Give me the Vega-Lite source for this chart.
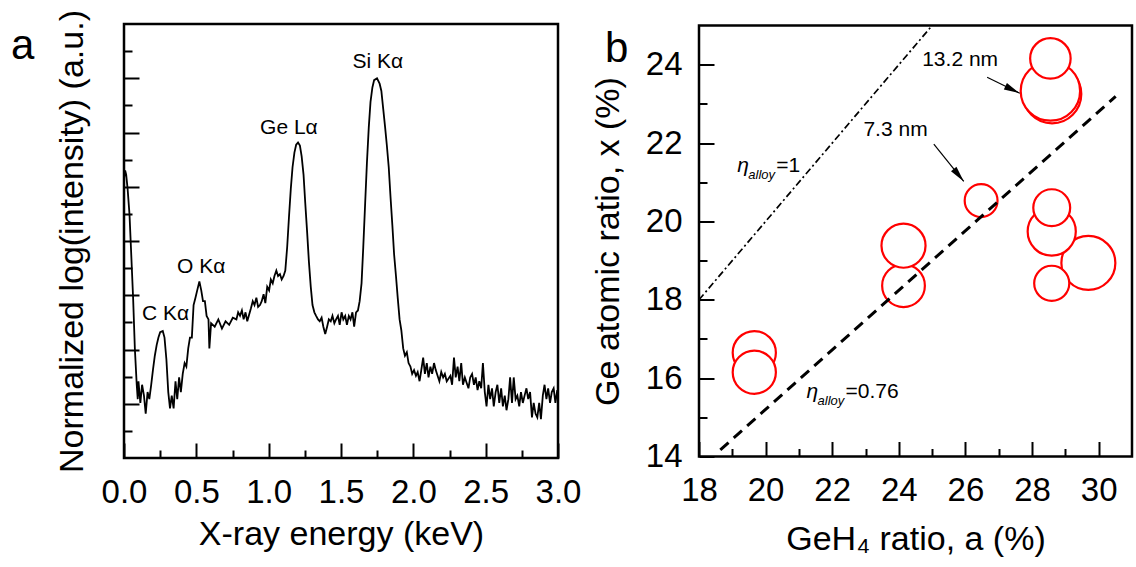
{
  "$schema": "https://vega.github.io/schema/vega-lite/v6.json",
  "padding": {"left": 9, "top": 8, "right": 0, "bottom": 0},
  "background": "white",
  "spacing": 141,
  "bounds": "flush",
  "center": true,
  "config": {
    "view": {"stroke": "black", "strokeWidth": 2.5},
    "font": "Liberation Sans",
    "axis": {
      "domain": false, "grid": false, "tickColor": "black", "tickWidth": 2,
      "labelColor": "black", "titleColor": "black", "labelFont": "Liberation Sans", "titleFont": "Liberation Sans",
      "labelFontSize": 33, "titleFontSize": 34, "titleFontWeight": "normal",
      "labelFlush": false, "labelOverlap": false, "labelBound": false
    },
    "text": {"font": "Liberation Sans", "color": "black"}
  },
  "datasets": {
    "spectrum": [
      {"E":0.000,"I":10.3},{"E":0.008,"I":10.6},{"E":0.015,"I":10.45},{"E":0.025,"I":9.92},{"E":0.038,"I":8.98},{"E":0.050,"I":7.51},{"E":0.063,"I":5.9},{"E":0.075,"I":4.04},{"E":0.088,"I":2.70},{"E":0.095,"I":2.17},
      {"E":0.100,"I":2.83},{"E":0.113,"I":2.03},{"E":0.125,"I":2.70},{"E":0.138,"I":2.30},{"E":0.150,"I":1.63},{"E":0.163,"I":2.43},{"E":0.175,"I":2.17},{"E":0.188,"I":2.70},{"E":0.200,"I":3.24},{"E":0.213,"I":3.77},
      {"E":0.226,"I":4.17},{"E":0.238,"I":4.44},{"E":0.250,"I":4.64},{"E":0.268,"I":4.68},{"E":0.280,"I":4.44},{"E":0.293,"I":3.64},{"E":0.306,"I":2.43},{"E":0.318,"I":1.83},{"E":0.330,"I":2.30},{"E":0.343,"I":1.83},
      {"E":0.356,"I":2.83},{"E":0.368,"I":2.17},{"E":0.381,"I":2.97},{"E":0.393,"I":2.43},{"E":0.406,"I":3.10},{"E":0.419,"I":3.50},{"E":0.431,"I":3.37},{"E":0.444,"I":4.04},{"E":0.456,"I":4.44},{"E":0.469,"I":4.44},
      {"E":0.481,"I":5.64},{"E":0.494,"I":5.91},{"E":0.506,"I":6.18},{"E":0.521,"I":6.51},{"E":0.534,"I":6.18},{"E":0.546,"I":5.78},{"E":0.559,"I":5.78},{"E":0.571,"I":5.24},{"E":0.584,"I":5.11},{"E":0.590,"I":4.04},
      {"E":0.602,"I":4.97},{"E":0.627,"I":4.84},{"E":0.652,"I":5.11},{"E":0.677,"I":4.77},{"E":0.702,"I":5.04},{"E":0.727,"I":4.91},{"E":0.752,"I":5.17},{"E":0.777,"I":5.11},{"E":0.789,"I":5.37},{"E":0.802,"I":5.24},
      {"E":0.815,"I":5.44},{"E":0.827,"I":5.11},{"E":0.840,"I":5.37},{"E":0.852,"I":5.04},{"E":0.877,"I":5.51},{"E":0.890,"I":5.78},{"E":0.902,"I":5.64},{"E":0.915,"I":5.91},{"E":0.927,"I":5.57},{"E":0.940,"I":5.64},
      {"E":0.952,"I":5.78},{"E":0.965,"I":6.04},{"E":0.977,"I":5.71},{"E":0.990,"I":6.31},{"E":1.003,"I":6.18},{"E":1.015,"I":6.58},{"E":1.028,"I":6.44},{"E":1.040,"I":6.71},{"E":1.053,"I":6.91},{"E":1.065,"I":6.71},
      {"E":1.078,"I":6.78},{"E":1.090,"I":6.58},{"E":1.103,"I":6.71},{"E":1.115,"I":6.91},{"E":1.128,"I":7.78},{"E":1.140,"I":8.85},{"E":1.153,"I":9.92},{"E":1.165,"I":10.72},{"E":1.178,"I":11.26},{"E":1.190,"I":11.55},
      {"E":1.203,"I":11.63},{"E":1.216,"I":11.52},{"E":1.228,"I":11.12},{"E":1.241,"I":10.45},{"E":1.253,"I":9.39},{"E":1.266,"I":8.32},{"E":1.278,"I":7.25},{"E":1.291,"I":6.31},{"E":1.303,"I":5.64},{"E":1.316,"I":5.37},
      {"E":1.328,"I":5.24},{"E":1.341,"I":5.11},{"E":1.353,"I":5.04},{"E":1.366,"I":5.17},{"E":1.378,"I":4.84},{"E":1.391,"I":4.57},{"E":1.404,"I":4.84},{"E":1.416,"I":5.11},{"E":1.429,"I":5.04},{"E":1.441,"I":5.24},
      {"E":1.454,"I":4.97},{"E":1.466,"I":5.11},{"E":1.479,"I":5.24},{"E":1.491,"I":4.91},{"E":1.504,"I":5.37},{"E":1.516,"I":5.11},{"E":1.529,"I":5.24},{"E":1.541,"I":4.91},{"E":1.554,"I":5.24},{"E":1.566,"I":5.11},
      {"E":1.579,"I":5.37},{"E":1.591,"I":4.84},{"E":1.604,"I":5.37},{"E":1.617,"I":5.44},{"E":1.629,"I":5.78},{"E":1.642,"I":6.44},{"E":1.654,"I":7.78},{"E":1.667,"I":9.39},{"E":1.679,"I":10.86},{"E":1.692,"I":12.19},
      {"E":1.704,"I":13.13},{"E":1.717,"I":13.66},{"E":1.729,"I":13.93},{"E":1.749,"I":14.0},{"E":1.767,"I":13.80},{"E":1.779,"I":13.53},{"E":1.792,"I":12.86},{"E":1.805,"I":12.19},{"E":1.817,"I":11.52},{"E":1.830,"I":10.72},
      {"E":1.842,"I":9.65},{"E":1.855,"I":8.58},{"E":1.867,"I":7.51},{"E":1.880,"I":6.71},{"E":1.892,"I":5.91},{"E":1.905,"I":5.11},{"E":1.917,"I":4.71},{"E":1.930,"I":4.04},{"E":1.942,"I":3.77},{"E":1.955,"I":3.90},
      {"E":1.967,"I":3.50},{"E":1.980,"I":3.37},{"E":1.992,"I":3.10},{"E":2.005,"I":3.24},{"E":2.018,"I":3.03},{"E":2.030,"I":3.17},{"E":2.043,"I":2.83},{"E":2.055,"I":3.24},{"E":2.068,"I":3.70},{"E":2.080,"I":3.10},
      {"E":2.093,"I":3.50},{"E":2.105,"I":2.97},{"E":2.118,"I":3.37},{"E":2.130,"I":3.10},{"E":2.143,"I":3.50},{"E":2.155,"I":3.24},{"E":2.180,"I":2.83},{"E":2.193,"I":3.17},{"E":2.206,"I":2.97},{"E":2.218,"I":3.10},
      {"E":2.231,"I":2.83},{"E":2.256,"I":3.03},{"E":2.268,"I":2.70},{"E":2.281,"I":3.70},{"E":2.293,"I":2.97},{"E":2.306,"I":3.37},{"E":2.318,"I":2.83},{"E":2.331,"I":3.50},{"E":2.343,"I":2.70},{"E":2.356,"I":2.97},
      {"E":2.381,"I":2.57},{"E":2.393,"I":2.97},{"E":2.406,"I":3.10},{"E":2.419,"I":2.70},{"E":2.431,"I":2.97},{"E":2.444,"I":2.50},{"E":2.456,"I":2.83},{"E":2.469,"I":2.57},{"E":2.481,"I":3.50},{"E":2.494,"I":2.43},
      {"E":2.506,"I":1.90},{"E":2.519,"I":2.70},{"E":2.531,"I":2.17},{"E":2.544,"I":2.57},{"E":2.556,"I":1.90},{"E":2.569,"I":2.43},{"E":2.581,"I":2.70},{"E":2.594,"I":2.03},{"E":2.607,"I":2.57},{"E":2.619,"I":1.90},
      {"E":2.632,"I":2.30},{"E":2.644,"I":1.76},{"E":2.657,"I":2.17},{"E":2.669,"I":2.97},{"E":2.682,"I":2.03},{"E":2.694,"I":2.97},{"E":2.707,"I":2.17},{"E":2.719,"I":2.30},{"E":2.732,"I":1.90},{"E":2.744,"I":2.43},
      {"E":2.757,"I":2.03},{"E":2.769,"I":2.30},{"E":2.782,"I":2.57},{"E":2.794,"I":2.17},{"E":2.807,"I":2.43},{"E":2.820,"I":1.50},{"E":2.832,"I":2.03},{"E":2.845,"I":1.63},{"E":2.857,"I":1.50},{"E":2.870,"I":2.03},
      {"E":2.882,"I":1.43},{"E":2.895,"I":2.30},{"E":2.907,"I":2.70},{"E":2.920,"I":2.17},{"E":2.932,"I":2.57},{"E":2.945,"I":2.03},{"E":2.957,"I":2.43},{"E":2.970,"I":2.57},{"E":2.982,"I":2.03},{"E":2.995,"I":2.50}
    ],
    "peaks": [
      {"E":0.288,"I":5.31,"label":"C Kα"},
      {"E":0.534,"I":7.05,"label":"O Kα"},
      {"E":1.14,"I":12.17,"label":"Ge Lα"},
      {"E":1.754,"I":14.6,"label":"Si Kα"}
    ],
    "circles": [
      {"a":28.60,"x":23.25,"d":13.0},
      {"a":28.55,"x":23.33,"d":13.2},
      {"a":28.55,"x":24.16,"d":9.0},
      {"a":26.47,"x":20.53,"d":7.3},
      {"a":24.14,"x":18.36,"d":9.5},
      {"a":24.14,"x":19.38,"d":9.8},
      {"a":19.66,"x":16.65,"d":9.6},
      {"a":19.66,"x":16.15,"d":9.6},
      {"a":29.69,"x":18.94,"d":12.0},
      {"a":28.59,"x":19.74,"d":10.7},
      {"a":28.59,"x":20.35,"d":8.2},
      {"a":28.59,"x":18.42,"d":7.8}
    ],
    "lines": [
      {"a":18,"x":18,"eta":"1"},{"a":25,"x":25,"eta":"1"},
      {"a":18.64,"x":14.17,"eta":"0.76"},{"a":30.51,"x":23.19,"eta":"0.76"}
    ],
    "sizes": [
      {"a":25.84,"x":24.12,"label":"13.2 nm"},
      {"a":23.90,"x":22.33,"label":"7.3 nm"}
    ],
    "arrows": [
      {"a":26.65,"x":23.68,"a2":27.63,"x2":23.27,"label":"13.2 nm"},
      {"a":25.05,"x":21.97,"a2":25.95,"x2":21.02,"label":"7.3 nm"}
    ],
    "eta": [
      {"a":19.15,"x":21.27,"v":"=1"},
      {"a":21.23,"x":15.49,"v":"=0.76"}
    ]
  },
  "hconcat": [
    {
      "width": 434, "height": 434,
      "resolve": {"axis": {"x": "independent", "y": "independent"}},
      "layer": [
        {
          "data": {"name": "spectrum"},
          "mark": {"type": "line", "color": "black", "strokeWidth": 1.8},
          "encoding": {
            "x": {"field": "E", "type": "quantitative", "scale": {"domain": [0, 3], "nice": false, "zero": false},
                  "axis": {"orient": "bottom", "values": [0, 0.5, 1, 1.5, 2, 2.5, 3], "format": ".1f", "tickSize": -15, "labelPadding": 33, "title": "X-ray energy (keV)", "titlePadding": 8}},
            "y": {"field": "I", "type": "quantitative", "scale": {"domain": [0, 16], "nice": false, "zero": false},
                  "axis": {"orient": "left", "values": [2, 4, 6, 8, 10, 12, 14], "tickSize": -15, "labels": false, "title": "Normalized log(intensity) (a.u.)", "titlePadding": 34}}
          }
        },
        {
          "data": {"name": "peaks"},
          "mark": {"type": "text", "fontSize": 21, "align": "center", "baseline": "middle"},
          "encoding": {
            "x": {"field": "E", "type": "quantitative", "axis": {"orient": "bottom", "values": [0.25, 0.75, 1.25, 1.75, 2.25, 2.75], "tickSize": -8, "labels": false, "title": null}},
            "y": {"field": "I", "type": "quantitative", "axis": {"orient": "left", "values": [1, 3, 5, 7, 9, 11, 13, 15], "tickSize": -8, "labels": false, "title": null}},
            "text": {"field": "label"}
          }
        },
        {
          "data": {"values": [{"E": -0.70, "I": 14.72, "t": "a"}]},
          "mark": {"type": "text", "fontSize": 42, "align": "center", "baseline": "alphabetic"},
          "encoding": {
            "x": {"field": "E", "type": "quantitative", "axis": null},
            "y": {"field": "I", "type": "quantitative", "axis": null},
            "text": {"field": "t"}
          }
        }
      ]
    },
    {
      "width": 433, "height": 431,
      "resolve": {"axis": {"x": "independent", "y": "independent"}},
      "layer": [
        {
          "data": {"name": "circles"},
          "mark": {"type": "point", "shape": "circle", "filled": true, "fill": "white", "stroke": "#ff0000", "strokeWidth": 2.2, "opacity": 1, "fillOpacity": 1, "strokeOpacity": 1},
          "encoding": {
            "x": {"field": "a", "type": "quantitative", "scale": {"domain": [18, 31], "nice": false, "zero": false},
                  "axis": {"orient": "bottom", "values": [18, 20, 22, 24, 26, 28, 30], "tickSize": -15, "labelPadding": 33, "title": "GeH₄ ratio, a (%)", "titlePadding": 15}},
            "y": {"field": "x", "type": "quantitative", "scale": {"domain": [14, 25], "nice": false, "zero": false},
                  "axis": {"orient": "left", "values": [14, 16, 18, 20, 22, 24], "tickSize": -15, "labelPadding": 32, "title": "Ge atomic ratio, x (%)", "titlePadding": 20}},
            "size": {"field": "d", "type": "quantitative", "scale": {"type": "pow", "exponent": 2, "domain": [0, 13.2], "range": [0, 3526]}, "legend": null}
          }
        },
        {
          "data": {"name": "lines"},
          "transform": [{"filter": "datum.eta == '0.76'"}],
          "mark": {"type": "line", "color": "black", "strokeWidth": 3, "strokeDash": [11, 7]},
          "encoding": {
            "x": {"field": "a", "type": "quantitative", "axis": {"orient": "bottom", "values": [19, 21, 23, 25, 27, 29], "tickSize": -8, "labels": false, "title": null}},
            "y": {"field": "x", "type": "quantitative", "axis": {"orient": "left", "values": [15, 17, 19, 21, 23], "tickSize": -8, "labels": false, "title": null}}
          }
        },
        {
          "data": {"name": "lines"},
          "transform": [{"filter": "datum.eta == '1'"}],
          "mark": {"type": "line", "color": "black", "strokeWidth": 1.7, "strokeDash": [7, 3, 2, 3]},
          "encoding": {
            "x": {"field": "a", "type": "quantitative", "axis": null},
            "y": {"field": "x", "type": "quantitative", "axis": null}
          }
        },
        {
          "data": {"name": "arrows"},
          "mark": {"type": "rule", "color": "black", "strokeWidth": 1.2},
          "encoding": {
            "x": {"field": "a", "type": "quantitative", "axis": null},
            "y": {"field": "x", "type": "quantitative", "axis": null},
            "x2": {"field": "a2"},
            "y2": {"field": "x2"}
          }
        },
        {
          "data": {"name": "arrows"},
          "transform": [{"filter": "datum.label == '13.2 nm'"}],
          "mark": {"type": "point", "shape": "M0,0L0.22,1L-0.22,1Z", "size": 1024, "filled": true, "color": "black", "opacity": 1, "angle": 116},
          "encoding": {
            "x": {"field": "a2", "type": "quantitative", "axis": null},
            "y": {"field": "x2", "type": "quantitative", "axis": null}
          }
        },
        {
          "data": {"name": "arrows"},
          "transform": [{"filter": "datum.label == '7.3 nm'"}],
          "mark": {"type": "point", "shape": "M0,0L0.22,1L-0.22,1Z", "size": 1024, "filled": true, "color": "black", "opacity": 1, "angle": 141},
          "encoding": {
            "x": {"field": "a2", "type": "quantitative", "axis": null},
            "y": {"field": "x2", "type": "quantitative", "axis": null}
          }
        },
        {
          "data": {"name": "sizes"},
          "mark": {"type": "text", "fontSize": 21, "align": "center", "baseline": "middle"},
          "encoding": {
            "x": {"field": "a", "type": "quantitative", "axis": null},
            "y": {"field": "x", "type": "quantitative", "axis": null},
            "text": {"field": "label"}
          }
        },
        {
          "data": {"name": "eta"},
          "mark": {"type": "text", "fontSize": 21, "fontStyle": "italic", "align": "left", "baseline": "alphabetic", "text": "η"},
          "encoding": {
            "x": {"field": "a", "type": "quantitative", "axis": null},
            "y": {"field": "x", "type": "quantitative", "axis": null}
          }
        },
        {
          "data": {"name": "eta"},
          "mark": {"type": "text", "fontSize": 13, "fontStyle": "italic", "align": "left", "baseline": "alphabetic", "dx": 11, "dy": 7, "text": "alloy"},
          "encoding": {
            "x": {"field": "a", "type": "quantitative", "axis": null},
            "y": {"field": "x", "type": "quantitative", "axis": null}
          }
        },
        {
          "data": {"name": "eta"},
          "mark": {"type": "text", "fontSize": 21, "align": "left", "baseline": "alphabetic", "dx": 39},
          "encoding": {
            "x": {"field": "a", "type": "quantitative", "axis": null},
            "y": {"field": "x", "type": "quantitative", "axis": null},
            "text": {"field": "v"}
          }
        },
        {
          "data": {"values": [{"a": 15.53, "x": 24.08, "t": "b"}]},
          "mark": {"type": "text", "fontSize": 42, "align": "center", "baseline": "alphabetic"},
          "encoding": {
            "x": {"field": "a", "type": "quantitative", "axis": null},
            "y": {"field": "x", "type": "quantitative", "axis": null},
            "text": {"field": "t"}
          }
        }
      ]
    }
  ]
}
